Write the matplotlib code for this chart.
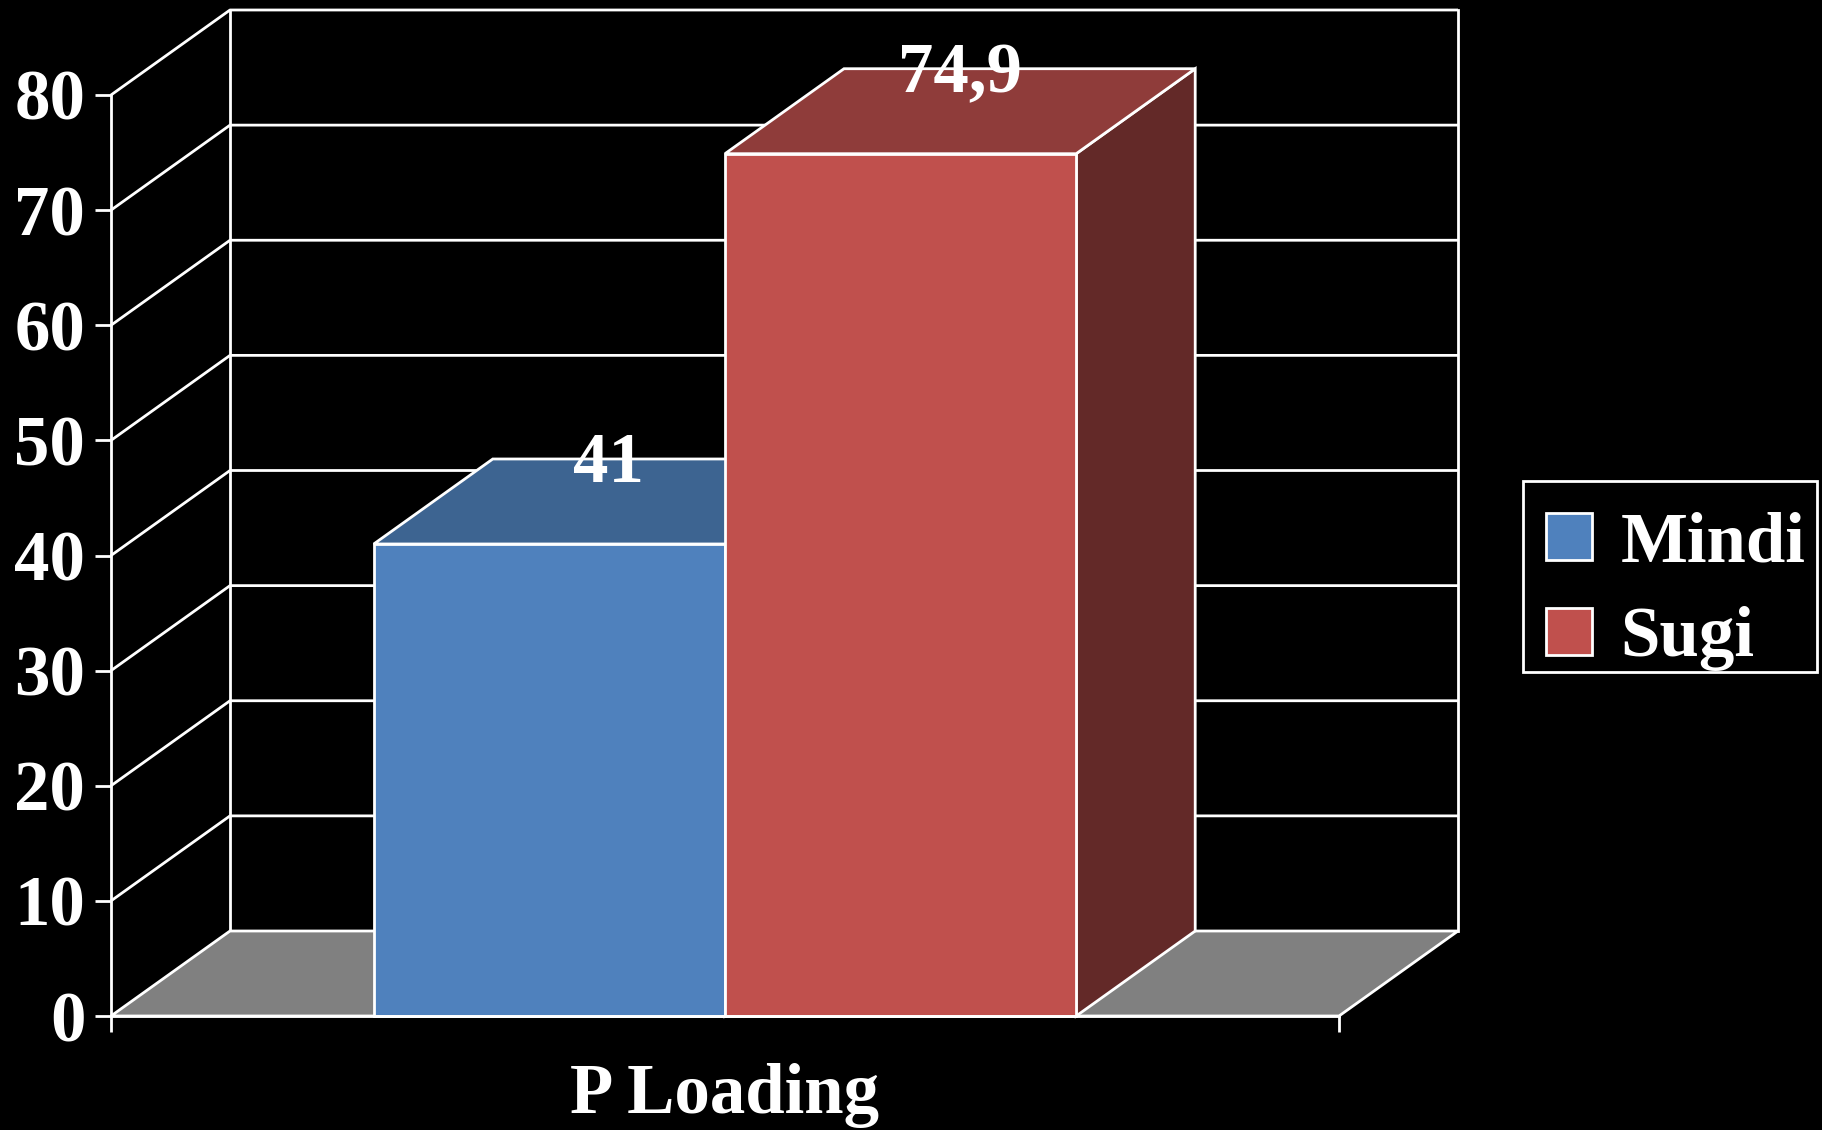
import matplotlib
matplotlib.use("Agg")
import matplotlib.pyplot as plt
from matplotlib.patches import Polygon, Rectangle, Patch

# --- data ---
category = "P Loading"
series = ["Mindi", "Sugi"]
values = [41, 74.9]
value_labels = ["41", "74,9"]
yticks = [0, 10, 20, 30, 40, 50, 60, 70, 80]

front_cols = ["#4F81BD", "#C0504D"]
top_cols = ["#3D6491", "#8F3C3A"]
side_cols = ["#2F4D70", "#632928"]

plt.rcParams['font.family'] = ['Liberation Serif', 'DejaVu Serif']
plt.rcParams['font.weight'] = 'bold'
FS = 51
LW = 2.0

fig = plt.figure(figsize=(18.22, 11.30), dpi=100, facecolor='black')
ax = fig.add_axes([111/1822, 1 - 1016/1130, 1228/1822, 921/1130])
ax.set_facecolor('none')
ax.set_xlim(0, 1)
ax.set_ylim(0, 80)

# depth of the fake 3d box, in data units
dx = 119/1228.
dy = 85/(921/80.)

# back wall + side wall grid
for v in yticks[1:]:
    ax.plot([0, dx, 1 + dx], [v, v + dy, v + dy], color='white', lw=LW,
            clip_on=False, zorder=1, solid_capstyle='butt')
ax.plot([dx, dx], [dy, 80 + dy], color='white', lw=LW, clip_on=False, zorder=1)
ax.plot([1 + dx, 1 + dx], [dy, 80 + dy], color='white', lw=LW, clip_on=False, zorder=1)

# floor
floor = Polygon([(0, 0), (1, 0), (1 + dx, dy), (dx, dy)], closed=True,
                facecolor='#808080', edgecolor='white', lw=LW, clip_on=False, zorder=2)
ax.add_patch(floor)

# bars
bw = 0.286
x0 = 0.5 - bw*len(values)/2.
for i, v in enumerate(values):
    xl = x0 + i*bw
    xr = xl + bw
    front = Rectangle((xl, 0), bw, v, facecolor=front_cols[i], edgecolor='white',
                      lw=LW, clip_on=False, zorder=3 + i)
    top = Polygon([(xl, v), (xr, v), (xr + dx, v + dy), (xl + dx, v + dy)], closed=True,
                  facecolor=top_cols[i], edgecolor='white', lw=LW, clip_on=False, zorder=3 + i)
    side = Polygon([(xr, 0), (xr + dx, dy), (xr + dx, v + dy), (xr, v)], closed=True,
                   facecolor=side_cols[i], edgecolor='white', lw=LW, clip_on=False, zorder=3 + i)
    ax.add_patch(side)
    ax.add_patch(top)
    ax.add_patch(front)
    ax.annotate(value_labels[i], (xl + bw/2. + dx/2., v + dy), xytext=(0, -4),
                textcoords='offset points', color='white', fontsize=FS,
                fontweight='bold', ha='center', va='center', zorder=10,
                annotation_clip=False)

# axes
for s in ['top', 'right']:
    ax.spines[s].set_visible(False)
for s in ['left', 'bottom']:
    ax.spines[s].set_color('white')
    ax.spines[s].set_linewidth(LW)
    ax.spines[s].set_zorder(8)

ax.set_yticks(yticks)
ax.set_yticklabels([str(t) for t in yticks])
ax.tick_params(axis='y', colors='white', labelsize=FS, length=11.5, width=LW, pad=7, direction='out')
ax.set_xticks([0.5])
ax.set_xticklabels([category])
ax.set_xticks([0, 1], minor=True)
ax.tick_params(axis='x', which='major', length=0, colors='white', labelsize=FS, pad=34)
ax.tick_params(axis='x', which='minor', length=11.5, width=LW, colors='white', direction='out')

# legend box drawn by hand, entries from fig.legend
box = Rectangle((1523/1822, 1 - 672/1130), 294/1822, 191/1130, transform=fig.transFigure,
                facecolor='black', edgecolor='white', lw=LW, zorder=20)
fig.add_artist(box)
handles = [Patch(facecolor=front_cols[i], edgecolor='white', lw=LW, label=series[i])
           for i in range(len(series))]
leg = fig.legend(handles=handles, loc='upper left', bbox_to_anchor=(1530/1822, 1 - 496/1130),
                 frameon=False, fontsize=FS, handlelength=0.65,
                 handleheight=0.65, handletextpad=0.41, labelspacing=0.42,
                 borderpad=0.22, borderaxespad=0)
leg.set_zorder(21)
for t in leg.get_texts():
    t.set_color('white')

fig.savefig('out.png', dpi=100, facecolor='black')
